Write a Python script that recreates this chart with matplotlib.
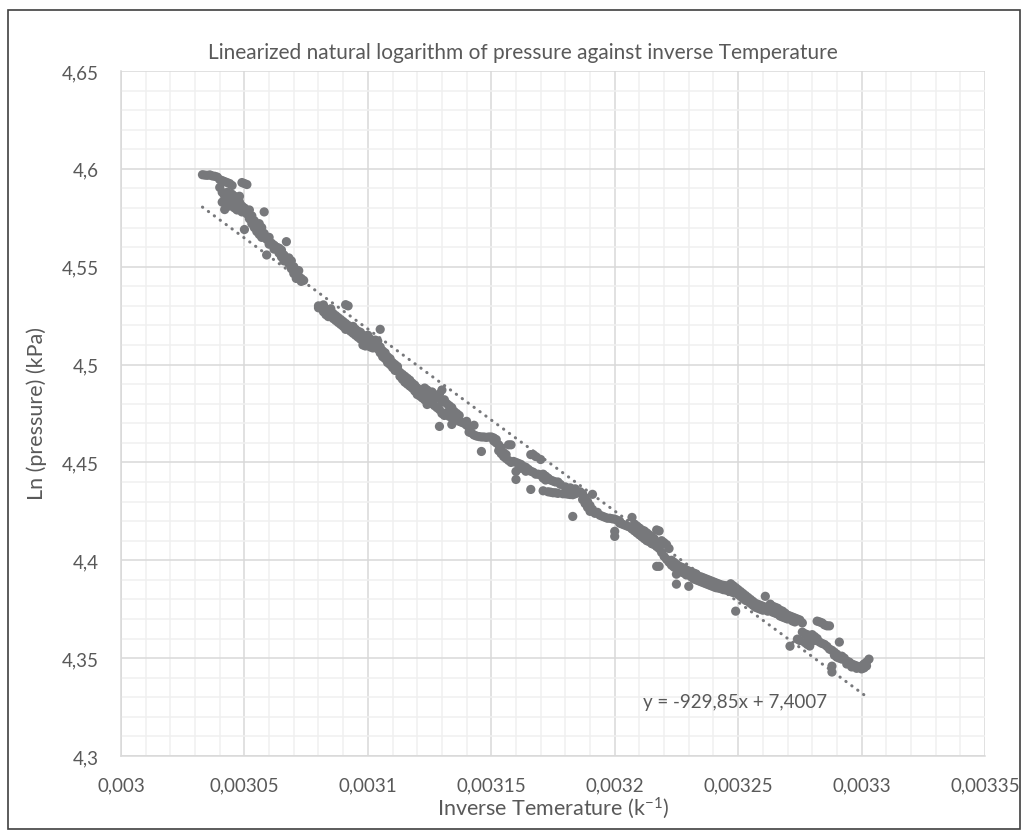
import numpy as np
import matplotlib
matplotlib.use("Agg")
import matplotlib.pyplot as plt
from matplotlib.ticker import MultipleLocator, FuncFormatter
from matplotlib.patches import Rectangle

# inverse temperature in units of 1e-6 K^-1
inv_temp_e6 = [
    3033, 3034, 3035, 3036, 3037, 3038, 3039, 3040, 3040, 3041,
    3041, 3041, 3042, 3042, 3042, 3043, 3043, 3043, 3044, 3044,
    3044, 3045, 3045, 3045, 3046, 3046, 3047, 3047, 3048, 3048,
    3049, 3049, 3049, 3050, 3050, 3050, 3051, 3051, 3052, 3052,
    3053, 3053, 3054, 3054, 3055, 3055, 3056, 3056, 3057, 3057,
    3058, 3058, 3059, 3059, 3060, 3060, 3061, 3062, 3062, 3063,
    3064, 3064, 3065, 3065, 3066, 3066, 3067, 3067, 3068, 3068,
    3069, 3069, 3070, 3070, 3071, 3071, 3072, 3072, 3073, 3073,
    3074, 3080, 3080, 3081, 3082, 3082, 3083, 3083, 3084, 3084,
    3085, 3085, 3086, 3086, 3087, 3087, 3088, 3088, 3089, 3089,
    3090, 3090, 3091, 3091, 3091, 3092, 3092, 3093, 3093, 3094,
    3094, 3095, 3095, 3096, 3096, 3097, 3097, 3098, 3098, 3099,
    3099, 3100, 3100, 3101, 3101, 3102, 3102, 3103, 3103, 3104,
    3104, 3105, 3105, 3105, 3106, 3106, 3107, 3107, 3108, 3108,
    3109, 3109, 3110, 3110, 3111, 3111, 3112, 3112, 3113, 3113,
    3114, 3114, 3115, 3115, 3116, 3116, 3117, 3117, 3118, 3118,
    3119, 3119, 3120, 3120, 3121, 3121, 3122, 3122, 3123, 3123,
    3124, 3124, 3125, 3125, 3126, 3126, 3127, 3127, 3128, 3128,
    3129, 3129, 3129, 3130, 3130, 3130, 3131, 3131, 3132, 3132,
    3133, 3133, 3134, 3134, 3135, 3135, 3136, 3136, 3137, 3137,
    3138, 3139, 3140, 3140, 3141, 3141, 3142, 3143, 3143, 3144,
    3145, 3146, 3146, 3147, 3148, 3149, 3150, 3151, 3151, 3152,
    3152, 3153, 3153, 3154, 3154, 3155, 3155, 3156, 3156, 3157,
    3157, 3158, 3158, 3159, 3160, 3160, 3160, 3161, 3162, 3162,
    3163, 3164, 3164, 3165, 3166, 3166, 3166, 3167, 3167, 3168,
    3168, 3169, 3170, 3170, 3171, 3171, 3172, 3172, 3173, 3174,
    3175, 3176, 3177, 3178, 3171, 3173, 3174, 3175, 3176, 3177,
    3179, 3180, 3181, 3182, 3183, 3184, 3185, 3186, 3183, 3187,
    3187, 3188, 3188, 3189, 3189, 3190, 3190, 3191, 3191, 3192,
    3193, 3194, 3195, 3196, 3197, 3198, 3199, 3200, 3200, 3200,
    3201, 3202, 3202, 3203, 3204, 3205, 3206, 3207, 3207, 3180,
    3182, 3184, 3208, 3208, 3209, 3209, 3210, 3210, 3211, 3211,
    3212, 3212, 3213, 3213, 3214, 3214, 3215, 3215, 3216, 3216,
    3217, 3217, 3217, 3218, 3218, 3218, 3219, 3219, 3220, 3220,
    3221, 3221, 3222, 3222, 3223, 3223, 3224, 3224, 3225, 3225,
    3225, 3226, 3226, 3227, 3227, 3228, 3228, 3229, 3229, 3230,
    3230, 3231, 3231, 3232, 3232, 3233, 3233, 3234, 3234, 3235,
    3235, 3236, 3236, 3237, 3237, 3238, 3238, 3239, 3239, 3240,
    3240, 3241, 3241, 3242, 3242, 3243, 3243, 3244, 3244, 3245,
    3245, 3246, 3246, 3247, 3247, 3248, 3248, 3249, 3249, 3250,
    3250, 3251, 3251, 3252, 3252, 3253, 3253, 3254, 3254, 3255,
    3255, 3256, 3256, 3257, 3257, 3258, 3258, 3259, 3259, 3260,
    3260, 3261, 3261, 3262, 3262, 3263, 3263, 3264, 3264, 3265,
    3265, 3266, 3266, 3267, 3267, 3268, 3268, 3269, 3269, 3270,
    3270, 3271, 3271, 3272, 3272, 3273, 3273, 3274, 3274, 3275,
    3275, 3276, 3276, 3277, 3277, 3278, 3278, 3279, 3279, 3280,
    3280, 3281, 3281, 3282, 3282, 3283, 3283, 3284, 3284, 3285,
    3285, 3286, 3286, 3287, 3287, 3288, 3288, 3288, 3289, 3289,
    3290, 3290, 3291, 3291, 3292, 3292, 3293, 3294, 3294, 3295,
    3296, 3296, 3297, 3298, 3298, 3299, 3300, 3300, 3301, 3301,
    3302, 3302, 3303,
]

ln_pressure = [
    4.5970, 4.5968, 4.5967, 4.5969, 4.5964, 4.5962, 4.5958, 4.5945, 4.5905, 4.5940,
    4.5880, 4.5830, 4.5935, 4.5860, 4.5792, 4.5930, 4.5880, 4.5840, 4.5925, 4.5850,
    4.5810, 4.5915, 4.5870, 4.5820, 4.5860, 4.5800, 4.5840, 4.5790, 4.5830, 4.5860,
    4.5930, 4.5810, 4.5780, 4.5925, 4.5800, 4.5690, 4.5920, 4.5770, 4.5790, 4.5745,
    4.5760, 4.5720, 4.5735, 4.5700, 4.5710, 4.5680, 4.5720, 4.5665, 4.5700, 4.5650,
    4.5780, 4.5670, 4.5640, 4.5560, 4.5650, 4.5615, 4.5620, 4.5610, 4.5590, 4.5600,
    4.5595, 4.5570, 4.5585, 4.5550, 4.5560, 4.5530, 4.5628, 4.5540, 4.5545, 4.5515,
    4.5530, 4.5490, 4.5500, 4.5465, 4.5470, 4.5440, 4.5480, 4.5450, 4.5440, 4.5425,
    4.5430, 4.5300, 4.5290, 4.5295, 4.5305, 4.5270, 4.5280, 4.5255, 4.5270, 4.5245,
    4.5285, 4.5250, 4.5260, 4.5235, 4.5250, 4.5225, 4.5240, 4.5215, 4.5230, 4.5205,
    4.5220, 4.5195, 4.5306, 4.5210, 4.5180, 4.5300, 4.5200, 4.5190, 4.5170, 4.5195,
    4.5160, 4.5180, 4.5150, 4.5170, 4.5140, 4.5165, 4.5130, 4.5100, 4.5150, 4.5140,
    4.5095, 4.5150, 4.5120, 4.5090, 4.5130, 4.5110, 4.5085, 4.5125, 4.5100, 4.5120,
    4.5080, 4.5180, 4.5090, 4.5060, 4.5070, 4.5040, 4.5060, 4.5030, 4.5040, 4.5010,
    4.5030, 4.5000, 4.5010, 4.4985, 4.5000, 4.4970, 4.4974, 4.4990, 4.4960, 4.4940,
    4.4950, 4.4925, 4.4940, 4.4910, 4.4930, 4.4900, 4.4920, 4.4890, 4.4905, 4.4880,
    4.4895, 4.4865, 4.4847, 4.4880, 4.4870, 4.4840, 4.4860, 4.4830, 4.4880, 4.4820,
    4.4870, 4.4796, 4.4850, 4.4810, 4.4860, 4.4800, 4.4840, 4.4790, 4.4830, 4.4780,
    4.4850, 4.4770, 4.4684, 4.4870, 4.4810, 4.4750, 4.4820, 4.4740, 4.4800, 4.4755,
    4.4790, 4.4735, 4.4694, 4.4780, 4.4760, 4.4730, 4.4750, 4.4725, 4.4740, 4.4710,
    4.4705, 4.4700, 4.4690, 4.4710, 4.4680, 4.4655, 4.4650, 4.4640, 4.4690, 4.4635,
    4.4632, 4.4630, 4.4556, 4.4630, 4.4628, 4.4630, 4.4630, 4.4625, 4.4610, 4.4617,
    4.4600, 4.4590, 4.4560, 4.4575, 4.4545, 4.4550, 4.4530, 4.4540, 4.4520, 4.4590,
    4.4510, 4.4590, 4.4500, 4.4505, 4.4500, 4.4454, 4.4413, 4.4495, 4.4490, 4.4470,
    4.4480, 4.4475, 4.4455, 4.4465, 4.4540, 4.4455, 4.4362, 4.4540, 4.4450, 4.4530,
    4.4440, 4.4440, 4.4515, 4.4435, 4.4440, 4.4420, 4.4430, 4.4410, 4.4420, 4.4410,
    4.4405, 4.4400, 4.4400, 4.4388, 4.4355, 4.4350, 4.4348, 4.4345, 4.4345, 4.4342,
    4.4340, 4.4340, 4.4338, 4.4336, 4.4335, 4.4340, 4.4345, 4.4350, 4.4224, 4.4340,
    4.4310, 4.4320, 4.4290, 4.4300, 4.4270, 4.4280, 4.4250, 4.4337, 4.4260, 4.4240,
    4.4245, 4.4230, 4.4225, 4.4220, 4.4215, 4.4215, 4.4212, 4.4210, 4.4148, 4.4122,
    4.4205, 4.4200, 4.4190, 4.4185, 4.4180, 4.4175, 4.4170, 4.4219, 4.4160, 4.4375,
    4.4370, 4.4365, 4.4185, 4.4150, 4.4175, 4.4140, 4.4165, 4.4130, 4.4155, 4.4120,
    4.4150, 4.4110, 4.4140, 4.4100, 4.4130, 4.4095, 4.4120, 4.4085, 4.4110, 4.4080,
    4.4155, 4.4070, 4.3969, 4.4150, 4.4060, 4.3969, 4.4100, 4.4040, 4.4090, 4.4020,
    4.4080, 4.4005, 4.4060, 4.3990, 4.4000, 4.3975, 4.3990, 4.3965, 4.3980, 4.3929,
    4.3878, 4.3970, 4.3950, 4.3965, 4.3940, 4.3960, 4.3935, 4.3950, 4.3925, 4.3945,
    4.3867, 4.3940, 4.3915, 4.3935, 4.3905, 4.3930, 4.3900, 4.3918, 4.3895, 4.3915,
    4.3890, 4.3910, 4.3885, 4.3905, 4.3880, 4.3900, 4.3875, 4.3895, 4.3870, 4.3890,
    4.3865, 4.3885, 4.3860, 4.3880, 4.3858, 4.3875, 4.3855, 4.3872, 4.3850, 4.3870,
    4.3848, 4.3868, 4.3845, 4.3880, 4.3840, 4.3870, 4.3835, 4.3860, 4.3740, 4.3850,
    4.3825, 4.3840, 4.3815, 4.3830, 4.3805, 4.3820, 4.3795, 4.3810, 4.3790, 4.3800,
    4.3780, 4.3790, 4.3770, 4.3780, 4.3760, 4.3775, 4.3755, 4.3770, 4.3750, 4.3765,
    4.3745, 4.3816, 4.3760, 4.3755, 4.3740, 4.3776, 4.3745, 4.3765, 4.3735, 4.3760,
    4.3730, 4.3755, 4.3725, 4.3745, 4.3715, 4.3740, 4.3710, 4.3730, 4.3705, 4.3720,
    4.3700, 4.3715, 4.3561, 4.3710, 4.3690, 4.3705, 4.3685, 4.3700, 4.3597, 4.3695,
    4.3590, 4.3633, 4.3680, 4.3625, 4.3580, 4.3620, 4.3570, 4.3612, 4.3562, 4.3620,
    4.3600, 4.3610, 4.3590, 4.3689, 4.3600, 4.3685, 4.3582, 4.3680, 4.3575, 4.3670,
    4.3570, 4.3665, 4.3560, 4.3665, 4.3546, 4.3540, 4.3459, 4.3429, 4.3530, 4.3515,
    4.3520, 4.3505, 4.3582, 4.3500, 4.3510, 4.3495, 4.3500, 4.3485, 4.3470, 4.3480,
    4.3470, 4.3455, 4.3465, 4.3460, 4.3448, 4.3455, 4.3460, 4.3445, 4.3470, 4.3450,
    4.3480, 4.3460, 4.3495,
]

# linear trendline as printed on the chart
trend_slope = -929.85
trend_intercept = 7.4007
trend_label = "y = -929,85x + 7,4007"

x_ticks = [0.003, 0.00305, 0.0031, 0.00315, 0.0032, 0.00325, 0.0033, 0.00335]

GREY = "#77787b"
TEXT = "#595959"

plt.rcParams["font.family"] = ["Lato", "DejaVu Sans"]
plt.rcParams["mathtext.fontset"] = "custom"
plt.rcParams["mathtext.rm"] = "Lato"
plt.rcParams["mathtext.default"] = "rm"

x = np.array(inv_temp_e6) * 1e-6
y = np.array(ln_pressure)

fig = plt.figure(figsize=(10.28, 8.37), dpi=100)
W, H = 1028, 837
ax = fig.add_axes([121 / W, 1 - 757 / H, 864 / W, 685 / H])

ax.scatter(x, y, s=44, color=GREY, edgecolors="none", zorder=3)

tx = np.array([x.min(), x.max()])
ax.plot(tx, trend_slope * tx + trend_intercept, color=GREY, lw=2.2,
        linestyle=(0, (0.1, 2.3)), dash_capstyle="round", zorder=4)

ax.set_xlim(x_ticks[0], x_ticks[-1])
ax.set_ylim(4.3, 4.65)
ax.set_xticks(x_ticks)
ax.yaxis.set_major_locator(MultipleLocator(0.05))
ax.xaxis.set_minor_locator(MultipleLocator(0.00001))
ax.yaxis.set_minor_locator(MultipleLocator(0.01))

comma = FuncFormatter(lambda v, p: ("%g" % round(v, 6)).replace(".", ","))
ax.xaxis.set_major_formatter(comma)
ax.yaxis.set_major_formatter(comma)

ax.grid(which="major", color="#d9d9d9", lw=1.1, zorder=0)
ax.grid(which="minor", color="#f0f0f0", lw=1.1, zorder=0)
ax.set_axisbelow(True)
for side in ("top", "right"):
    ax.spines[side].set_visible(False)
for side in ("left", "bottom"):
    ax.spines[side].set_color("#d9d9d9")
    ax.spines[side].set_linewidth(1.1)

ax.tick_params(which="both", length=0, labelsize=13.5, labelcolor=TEXT)
ax.tick_params(axis="y", pad=16)
ax.tick_params(axis="x", pad=15)

ax.text(0.604, 0.079, trend_label, transform=ax.transAxes, ha="left",
        va="center", fontsize=13.5, color=TEXT)

fig.text(0.509, 1 - 53 / H, "Linearized natural logarithm of pressure against inverse Temperature",
         ha="center", va="center", fontsize=15, color=TEXT)
fig.text(37 / W, 1 - 414 / H, "Ln (pressure) (kPa)", rotation=90,
         ha="center", va="center", fontsize=15.5, color=TEXT)
fig.text(553 / W, 1 - 808 / H, "Inverse Temerature (k$^{-1}$)",
         ha="center", va="center", fontsize=15.5, color=TEXT)

fig.patches.append(Rectangle((8 / W, 1 - 830 / H), 1012 / W, 819 / H,
                             transform=fig.transFigure, fill=False,
                             edgecolor="#404040", lw=1.2))

fig.savefig("out.png", dpi=100)
